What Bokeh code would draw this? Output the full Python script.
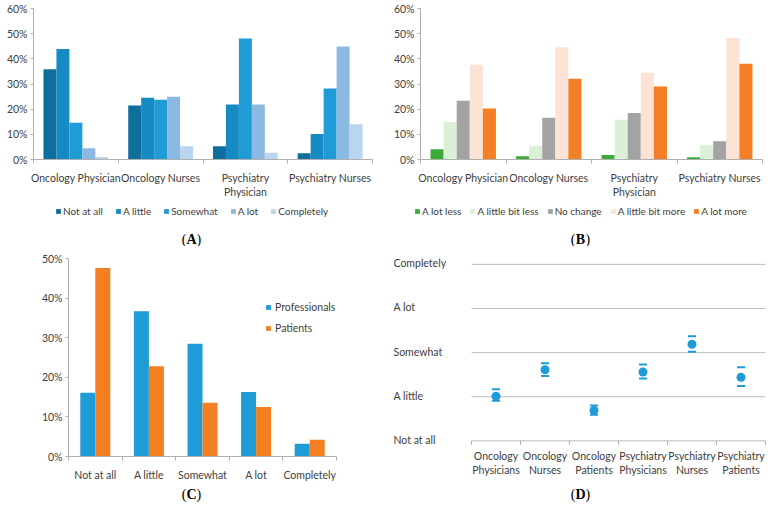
from bokeh.plotting import figure
from bokeh.layouts import column, row
from bokeh.models import FixedTicker, NumeralTickFormatter, Legend, LegendItem, Label, Range1d
from bokeh.embed import file_html
from bokeh.resources import INLINE

# ---------------- data ----------------
groups_ab = ["Oncology Physician", "Oncology Nurses", "Psychiatry\nPhysician", "Psychiatry Nurses"]

a_levels = ["Not at all", "A little", "Somewhat", "A lot", "Completely"]
a_not_at_all = [0.359, 0.215, 0.053, 0.025]
a_a_little = [0.439, 0.245, 0.219, 0.101]
a_somewhat = [0.146, 0.237, 0.481, 0.282]
a_a_lot = [0.045, 0.249, 0.219, 0.449]
a_completely = [0.010, 0.053, 0.027, 0.140]
a_colors = ["#0f6f9c", "#168ac3", "#1f9bd7", "#8bb9e1", "#b9d5ef"]

b_levels = ["A lot less", "A little bit less", "No change", "A little bit more", "A lot more"]
b_lot_less = [0.041, 0.013, 0.018, 0.009]
b_little_less = [0.149, 0.054, 0.158, 0.057]
b_no_change = [0.233, 0.166, 0.185, 0.073]
b_little_more = [0.376, 0.446, 0.345, 0.483]
b_lot_more = [0.203, 0.321, 0.290, 0.380]
b_colors = ["#3cab38", "#dbf0d6", "#a3a3a3", "#fde3d5", "#f57f25"]

c_categories = ["Not at all", "A little", "Somewhat", "A lot", "Completely"]
c_professionals = [0.161, 0.367, 0.285, 0.163, 0.032]
c_patients = [0.476, 0.228, 0.136, 0.125, 0.042]
c_series = ["Professionals", "Patients"]
c_colors = ["#1f9bd7", "#f47f20"]

d_groups = ["Oncology\nPhysicians", "Oncology\nNurses", "Oncology\nPatients",
            "Psychiatry\nPhysicians", "Psychiatry\nNurses", "Psychiatry\nPatients"]
d_scale = ["Not at all", "A little", "Somewhat", "A lot", "Completely"]
d_mean = [2.01, 2.61, 1.69, 2.56, 3.19, 2.44]
d_upper = [2.17, 2.76, 1.80, 2.73, 3.37, 2.67]
d_lower = [1.91, 2.47, 1.59, 2.41, 3.02, 2.24]

FONT = "Lato"
FS = "10.5px"
TXT = "#404040"
AXC = "#b0b0b0"

# page geometry (total 766 x 503)
W = 383
TOP_H, STRIP_T, BOT_H, STRIP_B = 200, 46, 237, 20
BOT_Y0 = TOP_H + STRIP_T            # 246
BT, BB = 258, 460                   # bottom-row frame top / bottom (page y)


def base_fig(w, h, xr, yr, left, right, top, bottom, axes=True):
    kw = {}
    if not axes:
        kw = dict(x_axis_location=None, y_axis_location=None)
    p = figure(width=w, height=h, x_range=Range1d(*xr), y_range=Range1d(*yr),
               output_backend="svg", toolbar_location=None, title=None,
               min_border=0, min_border_left=left, min_border_right=right,
               min_border_top=top, min_border_bottom=bottom, **kw)
    p.outline_line_color = None
    p.xgrid.visible = False
    p.ygrid.visible = False
    return p


def style_x(p, ticks, minor, labels, standoff, tick_in=0, tick_out=4, line=AXC):
    ax = p.xaxis[0]
    ax.ticker = FixedTicker(ticks=ticks, minor_ticks=minor)
    ax.major_label_overrides = {t: l for t, l in zip(ticks, labels)}
    ax.major_tick_in = 0
    ax.major_tick_out = 0
    ax.minor_tick_in = tick_in
    ax.minor_tick_out = tick_out
    ax.minor_tick_line_color = AXC
    ax.axis_line_color = line
    ax.major_label_text_font = FONT
    ax.major_label_text_font_size = FS
    ax.major_label_text_color = TXT
    ax.major_label_standoff = standoff


def style_y_pct(p, ymax):
    ax = p.yaxis[0]
    ax.ticker = FixedTicker(ticks=[i / 10 for i in range(int(round(ymax * 10)) + 1)], minor_ticks=[])
    ax.formatter = NumeralTickFormatter(format="0%")
    ax.major_tick_in = 0
    ax.major_tick_out = 3
    ax.major_tick_line_color = AXC
    ax.axis_line_color = AXC
    ax.major_label_text_font = FONT
    ax.major_label_text_font_size = FS
    ax.major_label_text_color = TXT
    ax.major_label_standoff = 3


def make_legend(items, orientation, location, spacing, label_height, fs, standoff):
    return Legend(items=items, orientation=orientation, location=location,
                  glyph_width=6, glyph_height=6, label_standoff=standoff, spacing=spacing, padding=0,
                  margin=0, label_height=label_height, label_text_font=FONT,
                  label_text_font_size=fs, label_text_color=TXT,
                  border_line_alpha=0, background_fill_alpha=0)


def panel_label(p, x, y, letter, w):
    common = dict(x=x, y=y, text_baseline="middle", text_font="Liberation Serif",
                  text_font_size="14px", text_color="#000000")
    p.add_layout(Label(x_offset=-w / 2, text="(", text_align="right", **common))
    p.add_layout(Label(text=letter, text_align="center", text_font_style="bold", **common))
    p.add_layout(Label(x_offset=w / 2, text=")", text_align="left", **common))


def strip(h, names, colors, legend_x, legend_y, spacing, letter, letter_x, letter_y):
    # a frame-only strip (pixel ranges) holding the legend and the panel letter
    s = base_fig(W, h, (0, W), (0, h), 0, 0, 0, 0, axes=False)
    if names:
        items = []
        for name, col in zip(names, colors):
            # zero-size swatch carrier for the legend
            r = s.vbar(x=[0], top=[0], bottom=0, width=0, fill_color=col, line_color=None)
            items.append(LegendItem(label=name, renderers=[r]))
        s.add_layout(make_legend(items, "horizontal", (legend_x, legend_y), spacing, 12, "10px", 2), "center")
    panel_label(s, letter_x, letter_y, letter, 10)
    return s


def grouped_panel(fl, fr, series, colors):
    # frame (relative to figure) x fl..fr, page y 8..163
    p = base_fig(W, TOP_H, (0, 4), (0, 0.6), fl, W - fr, 8, TOP_H - 163)
    n = len(series)
    bw = 0.153
    centers = [i + 0.5 for i in range(len(groups_ab))]
    for k, (vals, col) in enumerate(zip(series, colors)):
        xs = [c + (k - (n - 1) / 2) * bw for c in centers]
        p.vbar(x=xs, top=vals, width=bw, bottom=0, fill_color=col, line_color=None)
    style_x(p, centers, [0, 1, 2, 3, 4], groups_ab, 8)
    style_y_pct(p, 0.6)
    return p


pa = grouped_panel(33, 372, [a_not_at_all, a_a_little, a_somewhat, a_a_lot, a_completely], a_colors)
pb = grouped_panel(37, 379, [b_lot_less, b_little_less, b_no_change, b_little_more, b_lot_more], b_colors)
sa = strip(STRIP_T, a_levels, a_colors, 55, 29, 12, "A", 191, 7)
sb = strip(STRIP_T, b_levels, b_colors, 31, 29, 8, "B", 197, 7)

# ---------------- panel C ----------------
pc = base_fig(W, BOT_H, (0, 5), (0, 0.5), 68, W - 336, BT - BOT_Y0, BOT_Y0 + BOT_H - BB)
cc = [i + 0.5 for i in range(len(c_categories))]
cw = 0.28
r1 = pc.vbar(x=[c - cw / 2 for c in cc], top=c_professionals, width=cw, fill_color=c_colors[0], line_color=None)
r2 = pc.vbar(x=[c + cw / 2 for c in cc], top=c_patients, width=cw, fill_color=c_colors[1], line_color=None)
style_x(pc, cc, [0, 1, 2, 3, 4, 5], c_categories, 8)
style_y_pct(pc, 0.5)
pc.add_layout(make_legend([LegendItem(label=c_series[0], renderers=[r1]),
                           LegendItem(label=c_series[1], renderers=[r2])],
                          "vertical", (197, 121), 7, 14, FS, 4), "center")
sc = strip(STRIP_B, None, None, 0, 0, 0, "C", 191, 9)

# ---------------- panel D ----------------
# frame widened left (for the left-aligned scale texts) and down (shared bottom with C)
d_x0, d_x6, d_y1, d_y5 = 88, 382, 444, 264      # positions inside the figure / page y
ux = (d_x6 - d_x0) / 6
uy = (d_y1 - d_y5) / 4
d_fl, d_fr = 6, W
pd_ = base_fig(W, BOT_H, (-(d_x0 - d_fl) / ux, 6 + (d_fr - d_x6) / ux),
               (1 - (BB - d_y1) / uy, 5 + (d_y5 - BT) / uy),
               d_fl, W - d_fr, BT - BOT_Y0, BOT_Y0 + BOT_H - BB)
pd_.yaxis.visible = False
levels = [i + 1 for i in range(len(d_scale))]
n_groups = len(d_groups)
pd_.segment(x0=[0] * len(levels), x1=[n_groups] * len(levels), y0=levels, y1=levels,
            line_color="#bdbdbd", line_width=1)
bounds = list(range(n_groups + 1))
pd_.segment(x0=bounds, x1=bounds, y0=[levels[0]] * len(bounds),
            y1=[levels[0] - 4 / uy] * len(bounds), line_color=AXC, line_width=1)
dx = [i + 0.5 for i in range(n_groups)]
pd_.scatter(x=dx, y=d_upper, marker="dash", size=8, line_width=2, line_color="#1f9bd7")
pd_.scatter(x=dx, y=d_lower, marker="dash", size=8, line_width=2, line_color="#1f9bd7")
pd_.scatter(x=dx, y=d_mean, marker="circle", size=9, fill_color="#1f9bd7", line_color=None)
style_x(pd_, dx, [], d_groups, -(BB - (d_y1 + 9)), tick_in=0, tick_out=0, line=None)
for lev, lab in zip(levels, d_scale):
    pd_.add_layout(Label(x=-(d_x0 - 10) / ux, y=lev, text=lab, text_align="left",
                         text_baseline="middle", y_offset=1, text_font=FONT, text_font_size=FS,
                         text_color=TXT))
sd = strip(STRIP_B, None, None, 0, 0, 0, "D", 197, 9)

layout = column(row(pa, pb), row(sa, sb), row(pc, pd_), row(sc, sd))
open("out.html", "w").write(file_html(layout, INLINE))
